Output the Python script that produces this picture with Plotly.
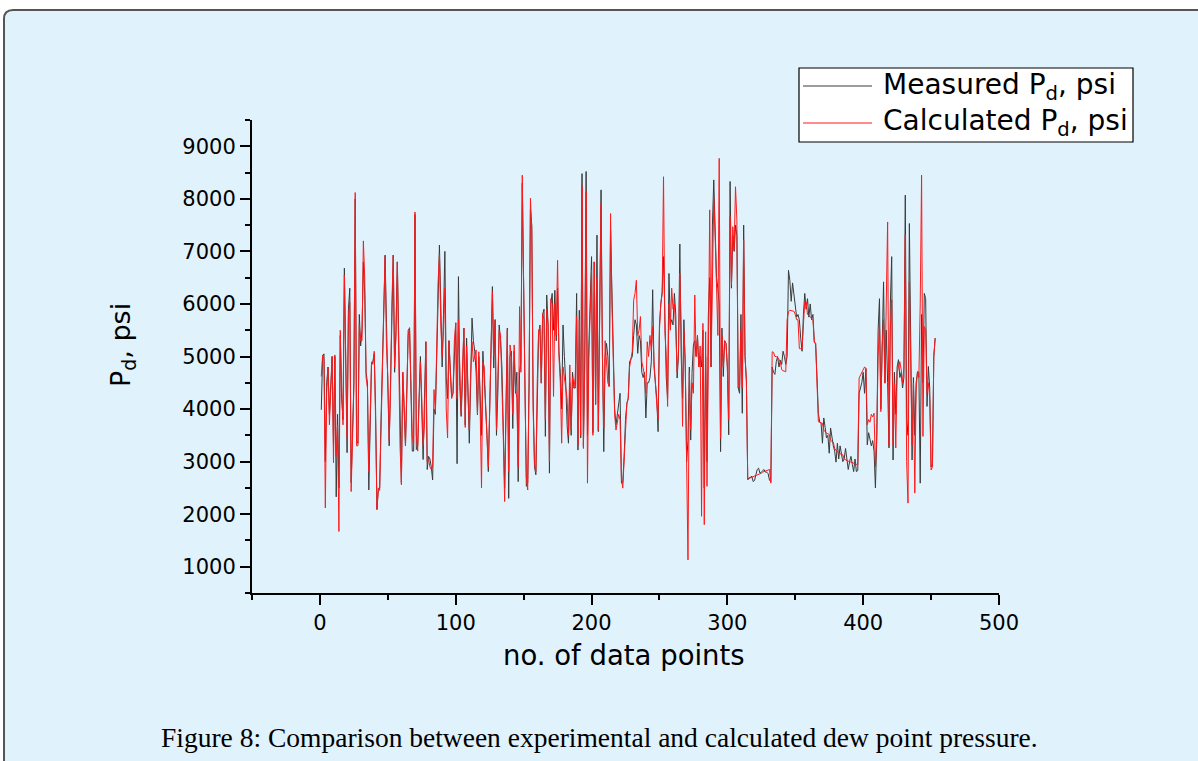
import plotly.graph_objects as go

# ---------------- data ----------------
point_no = list(range(1, 454))

measured_pd = [
    3985, 5000, 5050, 3000, 4500, 4800, 3900, 4600, 5000, 3300,
    5000, 2330, 3900, 2500, 5400, 4200, 3800, 6680, 4500, 3170,
    5900, 6300, 2600, 3600, 4500, 8000, 3400, 3350, 5800, 5200,
    5500, 6800, 6200, 4700, 4500, 2460, 3900, 4850, 4900, 5050,
    4000, 2100, 2450, 2500, 3800, 4700, 5800, 6930, 5650, 4400,
    3300, 4500, 5800, 6930, 4700, 5500, 6800, 5300, 3500, 2600,
    4700, 4000, 3300, 4300, 5500, 5540, 4000, 3200, 3200, 7700,
    3230, 3300, 4200, 5000, 4000, 3040, 4200, 5280, 2850, 3100,
    3050, 2900, 2650, 4000, 3900, 5000, 6500, 7120, 6000, 4800,
    5800, 7000, 4600, 4200, 5300, 4600, 4240, 4300, 5000, 5640,
    2960, 6520, 4430, 3860, 4600, 5540, 3700, 5350, 4400, 3350,
    4500, 5730, 5300, 5100, 4700, 3890, 5000, 4200, 3500, 5100,
    4600, 4000, 3500, 2810, 3900, 4900, 6330, 4780, 5700, 3500,
    4300, 5600, 5300, 4800, 3600, 2500, 4000, 5540, 2300, 5000,
    5100, 3630, 5100, 4300, 4700, 2620, 4700, 4900, 8300, 6000,
    4400, 2530, 2600, 4500, 7800, 7500, 4200, 2900, 2750, 4400,
    5400, 5600, 4500, 5800, 5900, 3480, 6170, 5600, 2780, 6000,
    6200, 5500, 6260, 5300, 6300, 5100, 4700, 4000, 5600, 5000,
    4500, 3700, 3350, 4500, 3500, 4700, 4400, 4400, 6200, 3220,
    5880, 3450, 8480, 3300, 5000, 8520, 3500, 5200, 6000, 6900,
    3550, 6800, 4100, 7310, 3570, 5900, 8170, 5100, 3190, 5000,
    5250, 5000, 4430, 7400, 6100, 5000, 4000, 3700, 3900, 4100,
    4300, 2590, 2600, 3100, 3800, 4100, 4200, 4900, 4950, 5000,
    5400, 5700, 5600, 5060, 5400, 5300, 4700, 4600, 4700, 3830,
    4500, 4500, 4600, 4900, 6270, 4800, 4500, 4200, 3570, 5600,
    6000, 6230, 6900, 5500, 4600, 4200, 6580, 5600, 5700, 5600,
    6200, 5800, 4590, 5000, 7140, 5000, 4200, 5700, 4800, 3000,
    3400, 4800, 3410, 4700, 5220, 5300, 5000, 5400, 4800, 5000,
    4800, 5500, 2500, 5000, 3000, 5800, 6500, 4800, 7500, 8360,
    7200, 6500, 6300, 6000, 3190, 5540, 4620, 5300, 5250, 4800,
    3510, 8330, 6300, 7300, 7000, 7500, 7300, 4400, 4300, 5800,
    3920, 7500, 5000, 4550, 2670, 2685, 2700, 2720, 2620, 2640,
    2750, 2850, 2875, 2780, 2800, 2830, 2850, 2800, 2800, 2770,
    2650, 2620, 4800, 4700, 4660, 4900, 5000, 4800, 4930, 4850,
    5100, 5000, 4850, 5000, 6640, 6450, 6050, 6400, 6150, 5900,
    5750, 5800, 5700, 5350, 5100, 5800, 6200, 5900, 6100, 5750,
    6000, 5700, 5800, 5280, 5250, 4600, 3920, 3750, 3730, 3350,
    3830, 3650, 3450, 3500, 3160, 3640, 3450, 3300, 3200, 2990,
    3350, 3050, 3300, 3100, 3000, 3050, 3250, 3050, 2850, 3000,
    3100, 2950, 2810, 3050, 2810, 2830, 4300, 4400, 4500, 4700,
    4300, 4770, 3320, 3550, 3400, 3300, 3400, 3200, 2500, 3400,
    5500, 6100, 4000, 5000, 6420, 4500, 5500, 4500, 3260, 6000,
    6900, 3030, 4700, 3900, 4800, 4940, 4600, 4700, 4400, 4600,
    8070, 3800, 3500, 7530, 4800, 3030, 4600, 3500, 4500, 4710,
    4700, 2590, 5800, 4500, 6200, 6100, 4050, 4810, 4400, 2900,
    2950, 5000, 5350,
]

calculated_pd = [
    4620, 5030, 4950, 2120, 4300, 4800, 3700, 4500, 5000, 2980,
    5030, 3100, 3700, 1670, 5500, 4400, 3700, 6550, 4700, 3450,
    5800, 6030, 2430, 3400, 4400, 8120, 3300, 3300, 5600, 5300,
    5300, 7200, 6500, 4600, 4400, 2800, 4000, 4900, 4850, 5100,
    3800, 2080, 2500, 2450, 3600, 4700, 5700, 6900, 5200, 4600,
    3400, 4300, 6000, 6930, 4800, 5400, 6800, 5000, 3300, 2560,
    4700, 4100, 3300, 4400, 5400, 5550, 4200, 3500, 3300, 7750,
    3500, 3200, 4100, 4900, 4200, 3300, 3700, 5280, 3000, 3050,
    2900, 2850, 2900, 4370, 3950, 5200, 6400, 6940, 5600, 5000,
    5500, 6300, 4000, 3450, 5300, 4700, 4200, 4300, 5300, 5640,
    4200, 5690, 4500, 3900, 4800, 5540, 3650, 5200, 4300, 3600,
    4700, 5280, 4900, 5050, 5125, 3900, 5090, 4000, 2500, 4900,
    4800, 4100, 3300, 2900, 4000, 5000, 6230, 5000, 5700, 3600,
    4400, 5500, 5400, 4600, 3500, 2240, 4300, 5500, 2800, 5220,
    5000, 3900, 5220, 4400, 4200, 2900, 5950, 4700, 8450, 6000,
    4300, 2700, 2460, 4400, 8010, 7400, 4000, 2950, 2800, 4500,
    5500, 5550, 4490, 5820, 5700, 3800, 5900, 5600, 3000, 6100,
    6000, 4240, 6000, 5400, 6830, 5000, 4500, 3350, 4800, 4600,
    4400, 4200, 3500, 4840, 3600, 4600, 4400, 4600, 5760, 3300,
    5700, 3500, 8260, 3250, 4800, 8130, 2590, 5000, 5800, 6650,
    3500, 6800, 4080, 6500, 3600, 5700, 7910, 5000, 3635, 5300,
    4800, 4500, 4430, 7720, 6000, 5000, 3900, 3600, 3800, 3900,
    3800, 2700, 2495, 3000, 3600, 4110, 4200, 4800, 4950, 5100,
    6070, 6200, 6450, 5400, 5500, 5760, 4900, 4750, 4650, 4300,
    5280, 5000, 5400, 5100, 5570, 4900, 4400, 4100, 3800, 5500,
    6000, 6200, 8420, 5500, 5000, 4050, 6000, 5500, 6300, 5900,
    6000, 5500, 4700, 5100, 6580, 5500, 3670, 5500, 4900, 2500,
    1130, 4700, 3600, 4500, 4300, 6170, 5000, 5380, 4800, 5200,
    1960, 5630, 1800, 5470, 2530, 5000, 7790, 4800, 6700, 8000,
    7300, 6400, 5400, 8770, 3440, 5400, 4800, 5300, 5250, 4800,
    3800, 7660, 6360, 7470, 7030, 8230, 7600, 4400, 4450, 5500,
    4400, 7220, 5000, 4554, 2650, 2680, 2690, 2700, 2710, 2720,
    2730, 2750, 2760, 2770, 2780, 2800, 2810, 2820, 2830, 2840,
    2850, 2590, 5090, 5080, 5000, 5000, 4980, 4950, 4900, 4750,
    4730, 4720, 4710, 5700, 5850, 5880, 5870, 5860, 5860, 5800,
    5700, 5700, 5150, 5150, 5130, 5600, 6040, 6040, 5800, 5780,
    5750, 5740, 5700, 5280, 5230, 4500, 3760, 3750, 3740, 3730,
    3600, 3560, 3540, 3530, 3520, 3400, 3380, 3370, 3250, 3200,
    3180, 3160, 3150, 3140, 3130, 3050, 3030, 3020, 3010, 3000,
    2990, 2980, 2970, 2960, 2950, 2940, 4590, 4650, 4700, 4750,
    4800, 4780, 3700, 3800, 3750, 3900, 3850, 3920, 2900, 3500,
    5000, 5630, 3950, 5200, 5700, 4490, 6500, 7560, 3300, 5500,
    6080, 3300, 4500, 3260, 4700, 4800, 4900, 4750, 4500, 4800,
    7310, 3000, 2210, 6420, 5000, 3300, 4500, 2400, 4400, 4710,
    4600, 6000, 8450, 3480, 5570, 5500, 4300, 4500, 4200, 2840,
    2900, 5000, 5350,
]

series_names = ["Measured P<sub>d</sub>, psi", "Calculated P<sub>d</sub>, psi"]
x_title = "no. of data points"
y_title = "P<sub>d</sub>, psi"
caption = "Figure 8: Comparison between experimental and calculated dew point pressure."

# ---------------- styling ----------------
GRAY = "#3a3a3a"
RED = "#ff1a1a"
BG = "#e0f2fc"
W, H = 1198, 761
L, R, T, B = 252, 199, 120, 168
PW, PH = W - L - R, H - T - B


def px(xpix):
    return (xpix - L) / PW


def py(ypix):
    return (H - B - ypix) / PH


fig = go.Figure()
fig.add_trace(go.Scatter(x=point_no, y=measured_pd, mode="lines", name=series_names[0],
                         line=dict(color=GRAY, width=1)))
fig.add_trace(go.Scatter(x=point_no, y=calculated_pd, mode="lines", name=series_names[1],
                         line=dict(color=RED, width=1)))

axis_common = dict(showline=True, linecolor="black", linewidth=2, ticks="outside",
                   ticklen=10, tickwidth=2, tickcolor="black", showgrid=False,
                   zeroline=False, tickfont=dict(family="DejaVu Sans", size=21, color="black"))

fig.update_xaxes(range=[-50, 500], tick0=0, dtick=100,
                 minor=dict(dtick=50, ticklen=5, tickwidth=2, tickcolor="black",
                            ticks="outside", showgrid=False),
                 **axis_common)
fig.update_yaxes(range=[500, 9500], tick0=1000, dtick=1000,
                 minor=dict(dtick=500, ticklen=5, tickwidth=2, tickcolor="black",
                            ticks="outside", showgrid=False),
                 **axis_common)

# page background with rounded border
lft, top, rgt, bot = px(4), py(10), px(1215), py(780)
dx, dy = 9 / PW, 9 / PH
border = (f"M {lft},{bot} L {lft},{top - dy} Q {lft},{top} {lft + dx},{top} "
          f"L {rgt},{top} L {rgt},{bot} Z")
shapes = [dict(type="path", xref="paper", yref="paper", path=border,
               fillcolor=BG, line=dict(color="#555555", width=2), layer="below")]

# legend box
shapes.append(dict(type="rect", xref="paper", yref="paper",
                   x0=px(799), x1=px(1133), y0=py(142), y1=py(68),
                   fillcolor="white", line=dict(color="black", width=1.2), layer="above"))
legend_rows = [(86, GRAY), (123, RED)]
annotations = []
for (ry, col), name in zip(legend_rows, series_names):
    shapes.append(dict(type="line", xref="paper", yref="paper",
                       x0=px(803), x1=px(872), y0=py(ry), y1=py(ry),
                       line=dict(color=col, width=1)))
    annotations.append(dict(xref="paper", yref="paper", x=px(881), y=py(ry),
                            xanchor="left", yanchor="middle", showarrow=False,
                            text=name, font=dict(family="DejaVu Sans", size=28, color="black")))

annotations.append(dict(xref="paper", yref="paper", x=px(624), y=py(655),
                        xanchor="center", yanchor="middle", showarrow=False, text=x_title,
                        font=dict(family="DejaVu Sans", size=27.5, color="black")))
annotations.append(dict(xref="paper", yref="paper", x=px(122), y=py(345),
                        xanchor="center", yanchor="middle", showarrow=False, text=y_title,
                        textangle=-90,
                        font=dict(family="DejaVu Sans", size=27, color="black")))
annotations.append(dict(xref="paper", yref="paper", x=px(599), y=py(737),
                        xanchor="center", yanchor="middle", showarrow=False, text=caption,
                        font=dict(family="Liberation Serif", size=27.5, color="black")))

fig.update_layout(width=W, height=H, margin=dict(l=L, r=R, t=T, b=B, pad=0),
                  paper_bgcolor="white", plot_bgcolor="rgba(0,0,0,0)",
                  showlegend=False, shapes=shapes, annotations=annotations,
                  font=dict(family="DejaVu Sans", size=21, color="black"))

fig.write_html("out.html", config={"displayModeBar": False},
               post_script="document.body.style.margin='0';document.body.style.overflow='hidden';")
